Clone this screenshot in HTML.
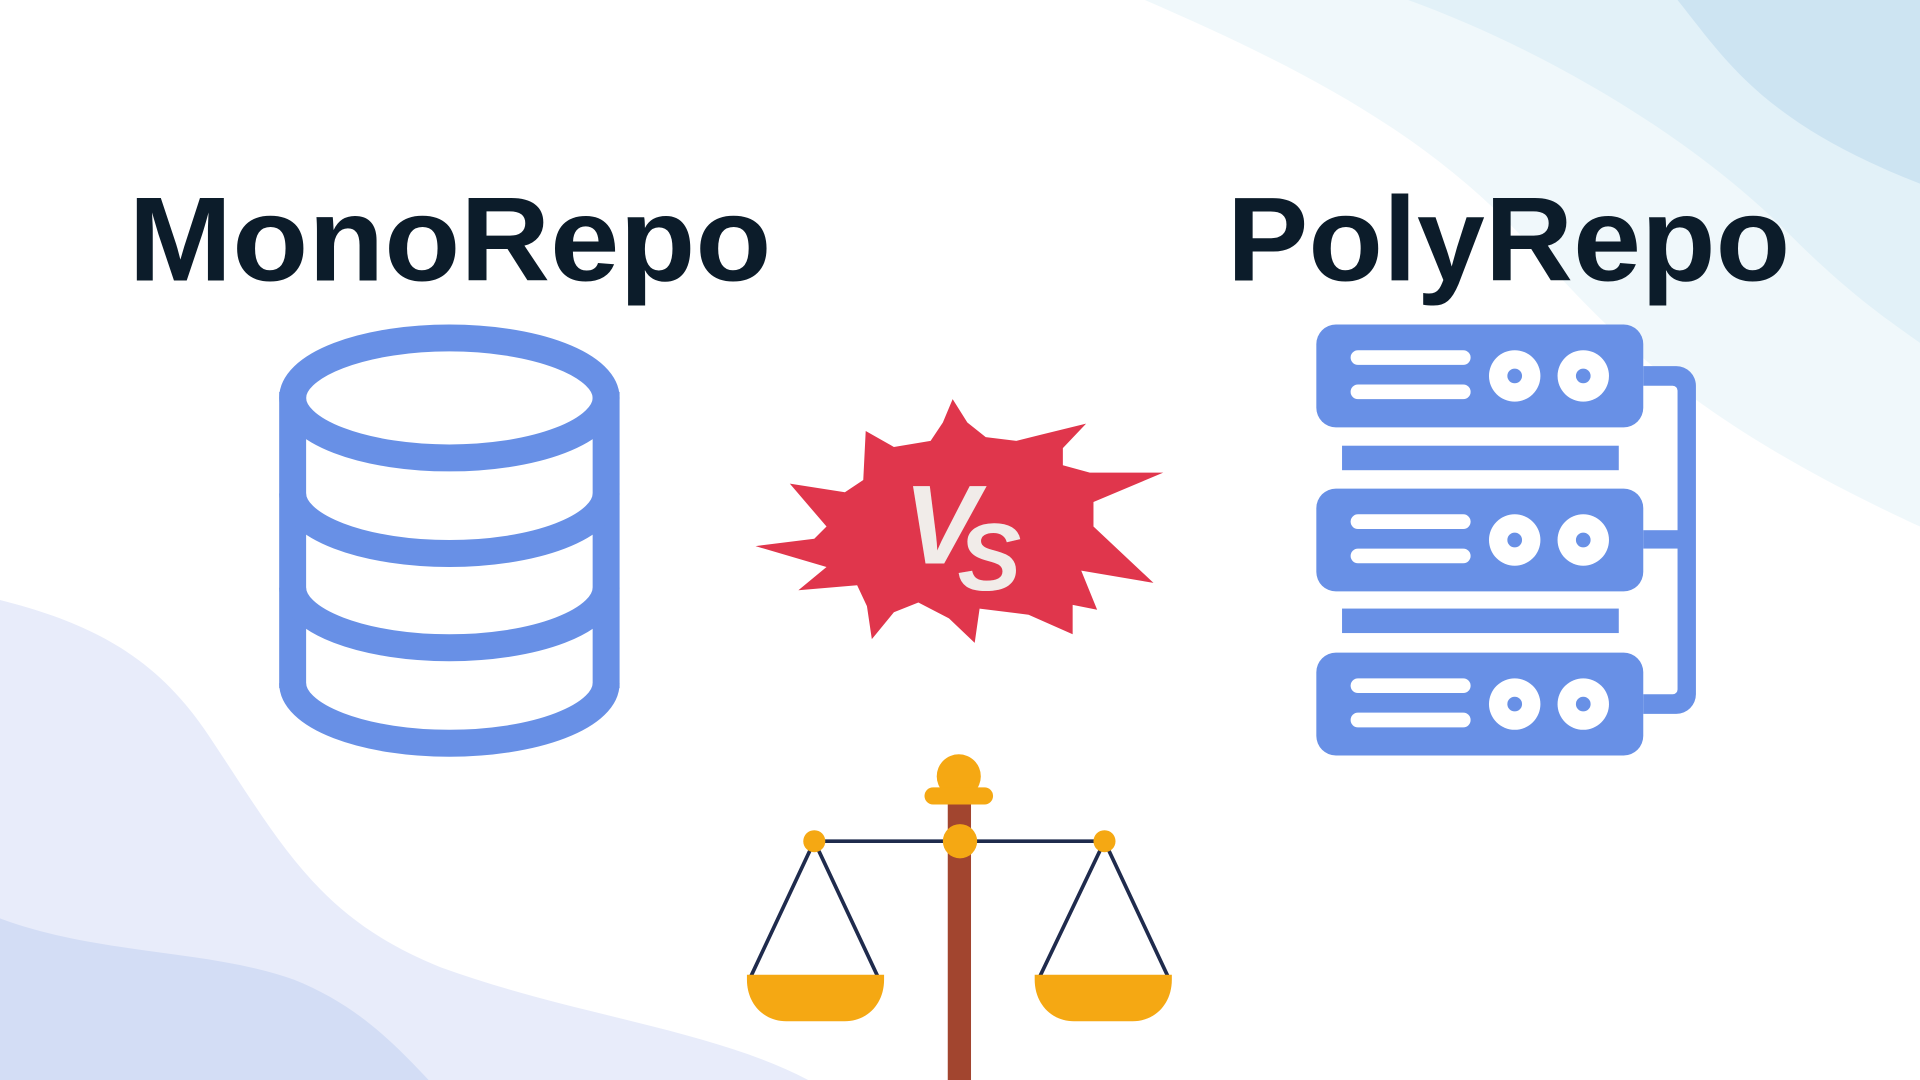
<!DOCTYPE html>
<html><head><meta charset="utf-8"><style>html,body{margin:0;padding:0;background:#fff;overflow:hidden}svg{display:block}</style></head>
<body>
<svg width="1920" height="1080" viewBox="0 0 1568 882" xmlns="http://www.w3.org/2000/svg">
<rect width="1568" height="882" fill="#fff"/>
<path d="M935,0 C1050,50 1150,100 1230,180 C1300,250 1350,330 1568,430 L1568,0 Z" fill="#f0f8fb"/>
<path d="M1150,0 C1260,40 1380,110 1460,190 C1510,240 1540,260 1568,280 L1568,0 Z" fill="#e2f1f8"/>
<path d="M1370,0 C1410,50 1440,100 1568,150 L1568,0 Z" fill="#cde4f2"/>
<path d="M0,490 C80,510 130,540 170,600 C230,690 260,750 360,790 C470,830 580,840 660,882 L0,882 Z" fill="#e8ecfa"/>
<path d="M0,750 C80,780 170,775 240,800 C290,820 320,850 350,882 L0,882 Z" fill="#d3ddf5"/>
<text x="105" y="229" font-family="Liberation Sans, sans-serif" font-weight="bold" font-size="98" fill="#0c1c2a" textLength="525" lengthAdjust="spacingAndGlyphs">MonoRepo</text>
<text x="1002" y="229" font-family="Liberation Sans, sans-serif" font-weight="bold" font-size="98" fill="#0c1c2a" textLength="460" lengthAdjust="spacingAndGlyphs">PolyRepo</text>
<g fill="none" stroke="#6890e6" stroke-width="22">
<ellipse cx="367" cy="325" rx="128" ry="49"/>
<line x1="239" y1="320" x2="239" y2="562"/>
<line x1="495" y1="320" x2="495" y2="562"/>
<path d="M239,403 A128,49 0 0 0 495,403"/>
<path d="M239,480 A128,49 0 0 0 495,480"/>
<path d="M239,558 A128,49 0 0 0 495,558"/>
</g>
<g fill="#6890e6">
<path d="M1342,299 H1369 A16,16 0 0 1 1385,315 V567 A16,16 0 0 1 1369,583 H1342 V567 H1366 A4,4 0 0 0 1370,563 V319 A4,4 0 0 0 1366,315 H1342 Z"/>
<rect x="1342" y="433" width="30" height="15"/>
<rect x="1075" y="265" width="267" height="84" rx="16"/>
<rect x="1075" y="399" width="267" height="84" rx="16"/>
<rect x="1075" y="533" width="267" height="84" rx="16"/>
<rect x="1096" y="364" width="226" height="20"/>
<rect x="1096" y="497" width="226" height="20"/>
</g>
<g id="u">
<rect x="1103" y="286" width="98" height="12" rx="6" fill="#fff"/>
<rect x="1103" y="314" width="98" height="12" rx="6" fill="#fff"/>
<circle cx="1237" cy="307" r="21" fill="#fff"/><circle cx="1237" cy="307" r="6" fill="#6890e6"/>
<circle cx="1293" cy="307" r="21" fill="#fff"/><circle cx="1293" cy="307" r="6" fill="#6890e6"/>
</g>
<use href="#u" y="134"/>
<use href="#u" y="268"/>
<polygon fill="#e0364c" points="778,326 790,345 805,357 830,360 850,355 887,346 868,366 868,380 890,386 950,386 893,410 893,430 942,476 883,466 896,498 876,494 876,518 840,502 800,497 796,525 775,505 750,492 730,500 712,522 708,495 700,478 652,482 675,463 617,446 665,440 675,430 645,395 690,402 705,392 707,352 730,365 760,360 770,345"/>
<text x="738" y="460" font-family="Liberation Sans, sans-serif" font-weight="bold" font-style="italic" font-size="92" fill="#f1ece9">V</text>
<text x="782" y="482" font-family="Liberation Sans, sans-serif" font-weight="bold" font-style="italic" font-size="78" fill="#f1ece9">S</text>
<rect x="774" y="652" width="19" height="230" fill="#a2452f"/>
<circle cx="783" cy="634" r="18" fill="#f5a813"/>
<rect x="755" y="643" width="56" height="14" rx="7" fill="#f5a813"/>
<line x1="665" y1="687" x2="902" y2="687" stroke="#1f2b4d" stroke-width="3"/>
<g stroke="#1f2b4d" stroke-width="3" fill="none">
<path d="M612,800 L665,687 L718,800"/>
<path d="M848,800 L902,687 L955,800"/>
</g>
<circle cx="665" cy="687" r="9" fill="#f5a813"/>
<circle cx="902" cy="687" r="9" fill="#f5a813"/>
<circle cx="784" cy="687" r="14" fill="#f5a813"/>
<path d="M610,796 H722 V800 C722,820 708,834 690,834 H642 C624,834 610,820 610,800 Z" fill="#f5a813"/>
<path d="M845,796 H957 V800 C957,820 943,834 925,834 H877 C859,834 845,820 845,800 Z" fill="#f5a813"/>
</svg>
</body></html>
